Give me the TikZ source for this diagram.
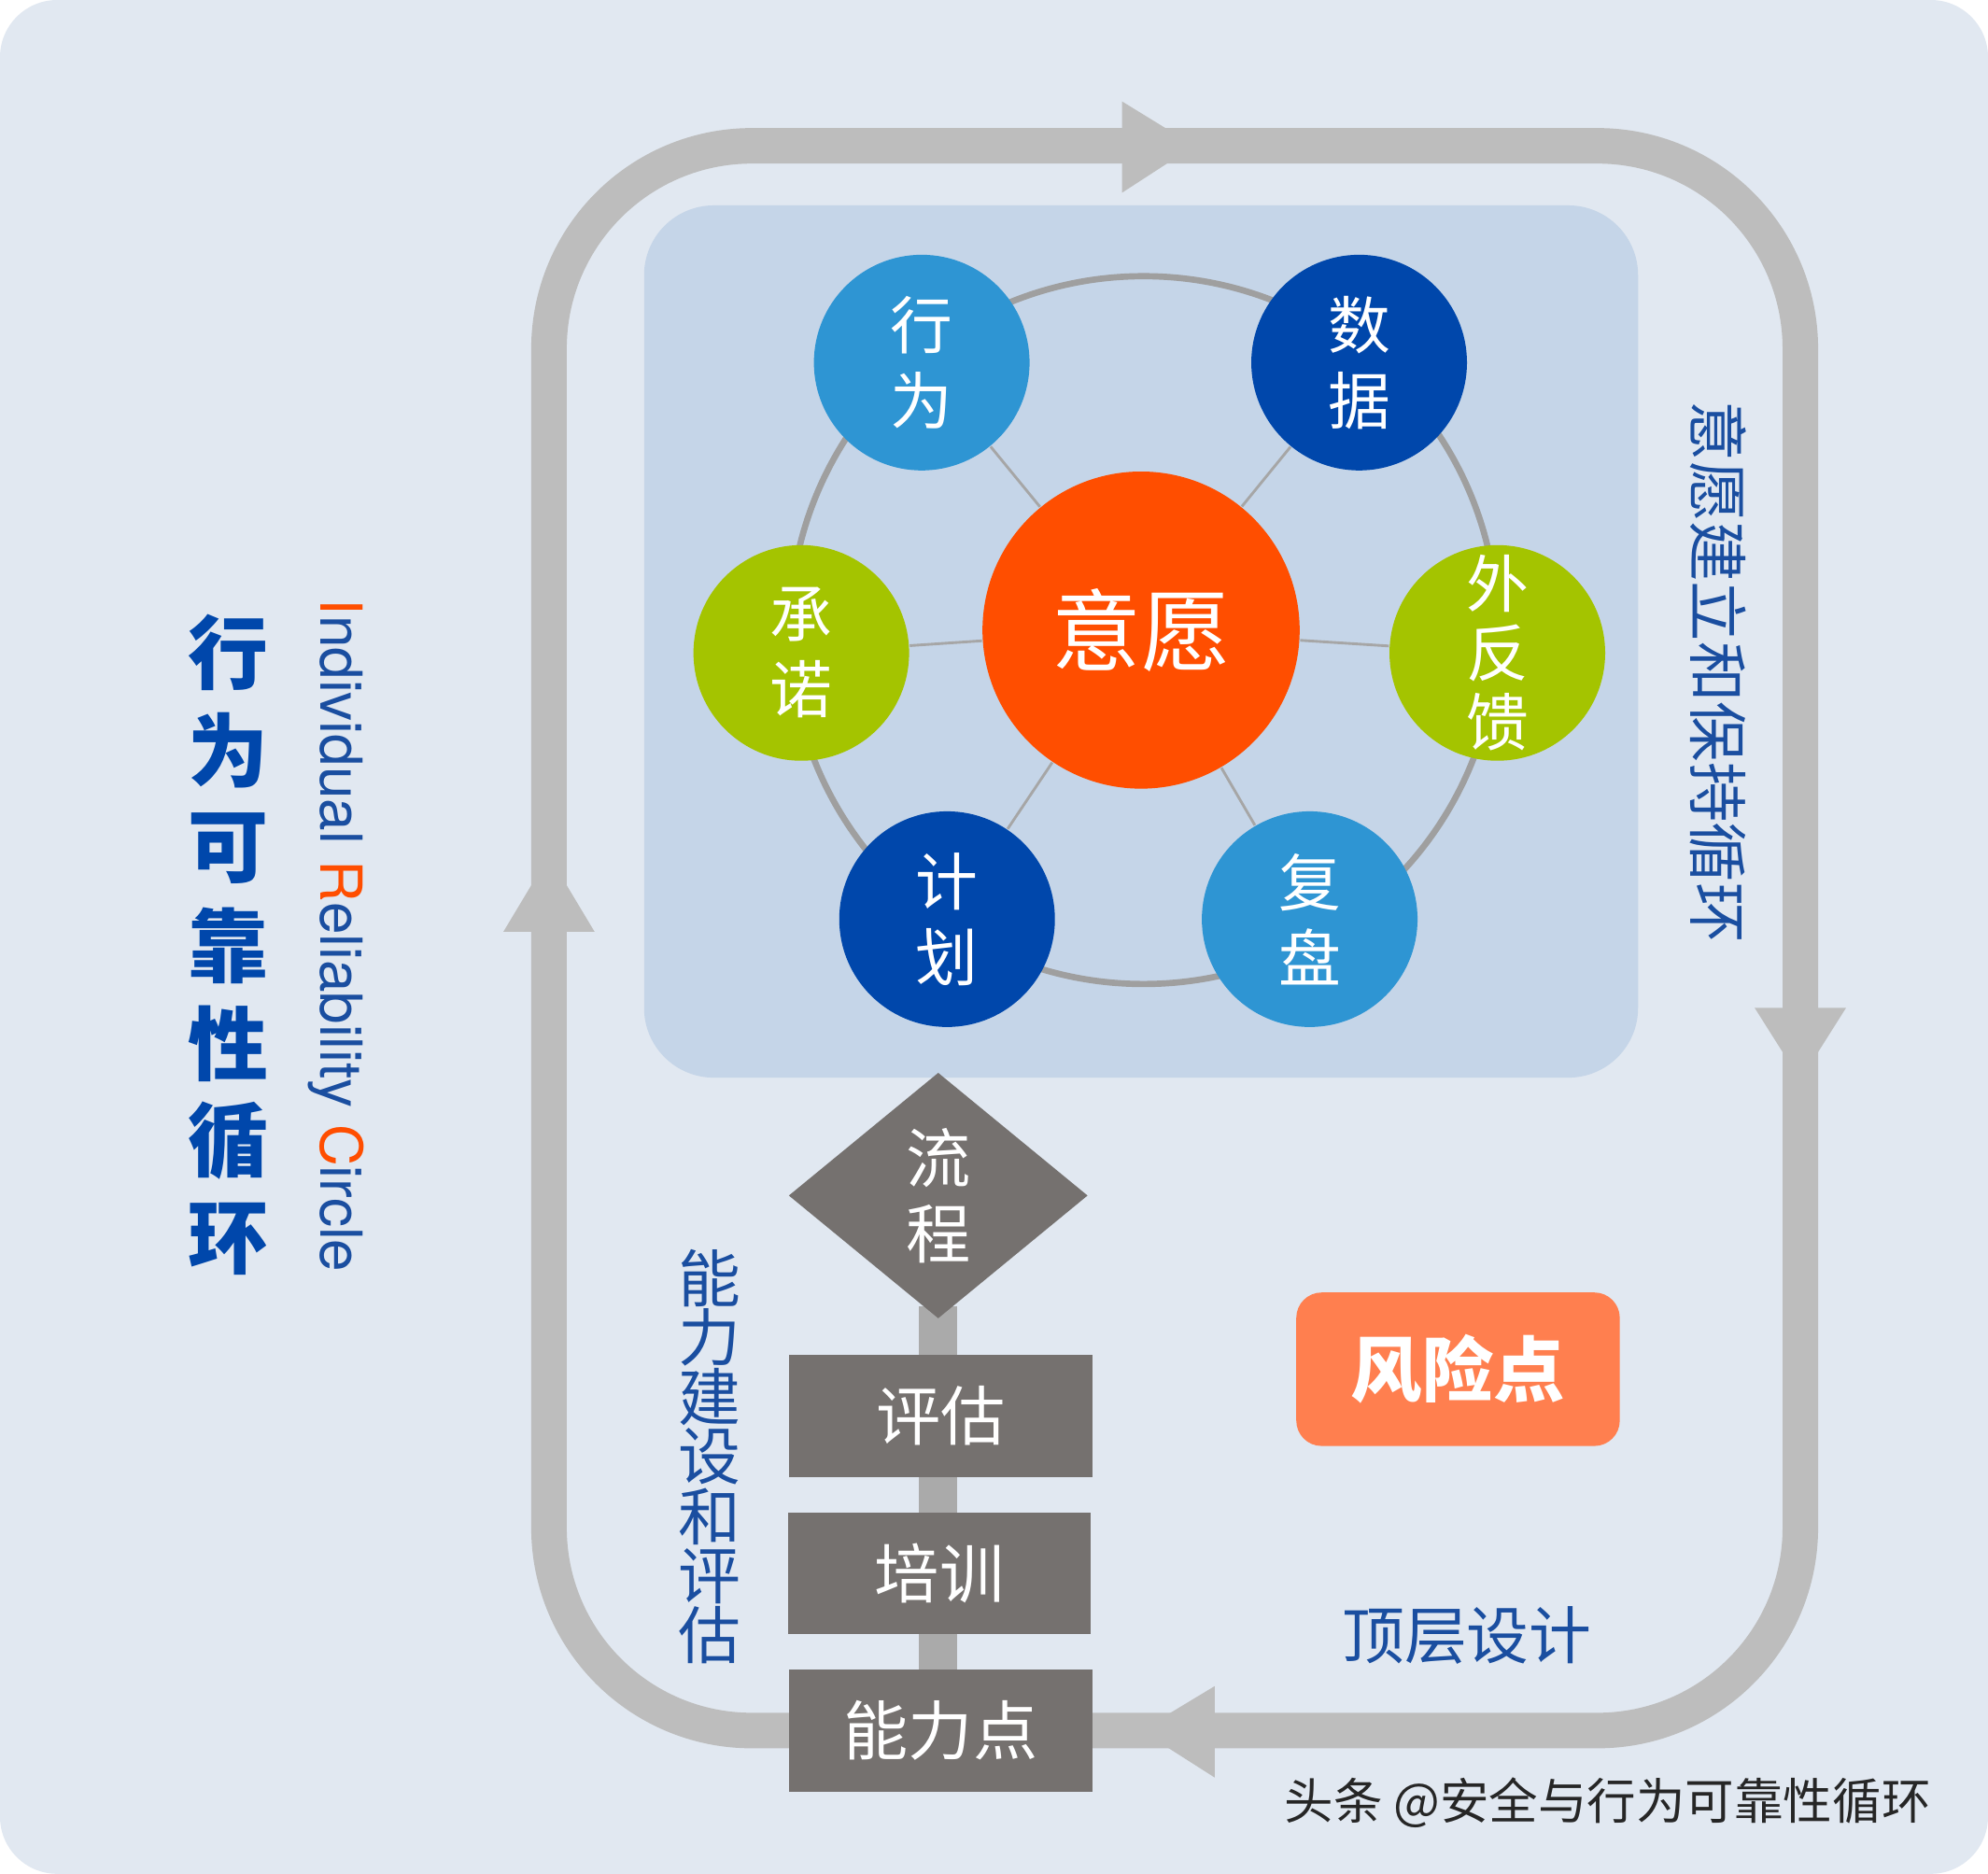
\documentclass[tikz,border=0pt]{standalone}
\usepackage{fontspec}
\setmainfont{Noto Sans CJK SC}
\newfontfamily\latinsf{TeX Gyre Heros}
\usetikzlibrary{shapes.geometric}
\definecolor{bgc}{HTML}{E1E8F1}
\definecolor{panel}{HTML}{C5D5E8}
\definecolor{loopc}{HTML}{BDBDBD}
\definecolor{orng}{HTML}{FF4E00}
\definecolor{lblue}{HTML}{2E95D3}
\definecolor{dblue}{HTML}{0047AB}
\definecolor{lgreen}{HTML}{A4C400}
\definecolor{boxg}{HTML}{75716F}
\definecolor{risk}{HTML}{FF7F4F}
\definecolor{txtb}{HTML}{1A4EA0}
\tikzset{
 sat/.style={circle,minimum size=1.7cm,text=white,font=\fontsize{14}{17}\selectfont,align=center,inner sep=0pt},
 gbox/.style={rectangle,fill=boxg,text=white,minimum width=2.39cm,minimum height=0.96cm,font=\fontsize{14.5}{16}\selectfont},
 spoke/.style={draw=gray!70,line width=0.6pt},
 arrh/.style={fill=loopc,draw=none}
}
\begin{document}
\begin{tikzpicture}[x=0.01cm,y=-0.01cm]
\useasboundingbox (0,0) rectangle (1568,1478);
\fill[bgc,rounded corners=0.45cm] (0,0) rectangle (1568,1478);
% loop
\draw[loopc,line width=0.28cm,rounded corners=1.6cm] (433,115) rectangle (1420,1365);
\fill[arrh] (885,80) -- (942,115) -- (885,152) -- cycle;
\fill[arrh] (1384,795) -- (1456,795) -- (1420,852) -- cycle;
\fill[arrh] (958,1330) -- (900,1365) -- (958,1402) -- cycle;
\fill[arrh] (397,735) -- (469,735) -- (433,675) -- cycle;
% panel
\fill[panel,rounded corners=0.55cm] (508,162) rectangle (1292,850);
\draw[gray!75,line width=1.4pt] (902,497) circle (2.79cm);
\node[circle,fill=orng,minimum size=2.5cm,text=white,font=\fontsize{20}{22}\selectfont] (c) at (900,497) {意愿};
\node[sat,fill=lblue] (s1) at (727,286) {行\\为};
\node[sat,fill=dblue] (s2) at (1072,286) {数\\据};
\node[sat,fill=lgreen] (s3) at (632,515) {承\\诺};
\node[sat,fill=lgreen,font=\fontsize{14}{15.5}\selectfont] (s4) at (1181,515) {外\\反\\馈};
\node[sat,fill=dblue] (s5) at (747,725) {计\\划};
\node[sat,fill=lblue] (s6) at (1033,725) {复\\盘};
\foreach \s in {s1,s2,s3,s4,s5,s6} \draw[spoke] (c) -- (\s);
% lower chain
\draw[loopc!90!black,line width=0.3cm] (740,1030) -- (740,1380);
\node[diamond,fill=boxg,text=white,minimum width=2.36cm,minimum height=1.94cm,inner sep=0pt,align=center,font=\fontsize{14.5}{17}\selectfont] (d) at (740,943) {流\\程};
\node[gbox] (b1) at (742,1117) {评估};
\node[gbox] (b2) at (741,1241) {培训};
\node[gbox] (b3) at (742,1365) {能力点};
\node[rectangle,rounded corners=0.2cm,fill=risk,text=white,minimum width=2.55cm,minimum height=1.21cm,font=\fontsize{16}{18}\selectfont\bfseries] (r) at (1150,1080) {风险点};
\node[text=txtb,font=\fontsize{14}{16}\selectfont] (t1) at (1157,1290) {顶层设计};
\node[text=txtb,rotate=-90,font=\fontsize{13.5}{16}\selectfont] (t2) at (1355,530) {意愿建立和保持循环};
\foreach \ch [count=\i from 0] in {能,力,建,设,和,评,估}
  \node[text=txtb,font=\fontsize{14}{16}\selectfont] (v\i) at (560,1008+\i*47) {\ch};
\foreach \ch [count=\i from 0] in {行,为,可,靠,性,循,环}
  \node[text=dblue,font=\fontsize{18}{21}\selectfont\bfseries] (h\i) at (180,515+\i*77) {\ch};
\node[rotate=-90,text=txtb,font=\latinsf\fontsize{13}{15}\selectfont] (en) at (265,738) {\textcolor{orng}{I}ndividual \textcolor{orng}{R}eliability \textcolor{orng}{C}ircle};
\node[text=black!85,font=\fontsize{11}{13}\selectfont] (wm) at (1268,1422) {头条 @安全与行为可靠性循环};
\end{tikzpicture}
\end{document}
